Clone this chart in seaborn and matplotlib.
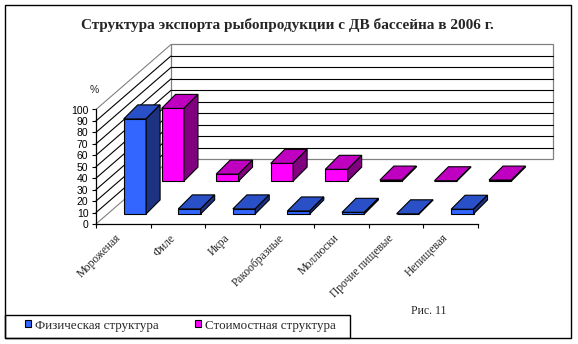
import numpy as np
import pandas as pd
import matplotlib
matplotlib.use("Agg")
import matplotlib.pyplot as plt
from matplotlib.patches import Polygon, Rectangle
from matplotlib.lines import Line2D
from matplotlib.transforms import Affine2D
import seaborn as sns

# ---- data -------------------------------------------------------------
categories = ["Мороженая", "Филе", "Икра", "Ракообразные", "Моллюски",
              "Прочие пищевые", "Непищевая"]
physical = [83.0, 4.4, 4.4, 2.6, 1.4, 0.1, 4.1]   # Физическая структура, %
cost = [63.5, 6.1, 15.5, 10.3, 0.9, 0.3, 0.9]      # Стоимостная структура, %
series_names = ["Физическая структура", "Стоимостная структура"]
y_ticks = list(range(0, 101, 10))
title = "Структура экспорта рыбопродукции с ДВ бассейна в 2006 г."
caption = "Рис. 11"
y_unit = "%"

# ---- styling ----------------------------------------------------------
sns.set_style("white")
plt.rcParams["font.family"] = ["Liberation Serif", "DejaVu Serif"]
SANS = ["Liberation Sans", "DejaVu Sans"]
SERIF = ["Liberation Serif", "DejaVu Serif"]

colors = {
    "Физическая структура": ("#3366FF", "#2A50C8", "#1E3282"),   # front, top, side
    "Стоимостная структура": ("#FF00FF", "#C000C0", "#800080"),
}

W, H = 578, 344
fig = plt.figure(figsize=(W / 100, H / 100), dpi=100)


def fx(px):
    return px / W


def fy(py):
    return 1 - py / H


# front plane of the 3-D box: x in categories, y in percent
ax_left, ax_right, ax_bottom, ax_top = 96, 478, 224, 109.5
ax = fig.add_axes([fx(ax_left), fy(ax_bottom), fx(ax_right - ax_left),
                   (ax_bottom - ax_top) / H])
ax.patch.set_visible(False)

n = len(categories)
px_per_cat = (ax_right - ax_left) / n
px_per_unit = (ax_bottom - ax_top) / 100.0

# depth of the box (oblique projection) expressed in data units
DX = 75 / px_per_cat
DY = 65 / px_per_unit
# depth of a single bar
BDX = 14 / px_per_cat
BDY = 14 / px_per_unit

wall_kw = dict(transform=ax.transData, clip_on=False)

# back wall with gridlines
ax.add_patch(Rectangle((-0.5 + DX, DY), n, 100, facecolor="white",
                       edgecolor="#808080", linewidth=0.9, zorder=0.5, **wall_kw))
for k in y_ticks[1:-1]:
    ax.add_line(Line2D([-0.5 + DX, n - 0.5 + DX], [DY + k, DY + k],
                       color="black", linewidth=0.8, zorder=0.6, **wall_kw))
# left wall
for k in y_ticks:
    c = "#808080" if k in (0, 100) else "black"
    ax.add_line(Line2D([-0.5, -0.5 + DX], [k, DY + k], color=c,
                       linewidth=0.8, zorder=0.6, **wall_kw))

# ---- bars -------------------------------------------------------------
rows = [("Стоимостная структура", cost, 0.66, 2),
        ("Физическая структура", physical, 0.155, 4)]

for name, values, depth, z in rows:
    front, top_c, side_c = colors[name]
    df = pd.DataFrame({"Категория": categories, "Доля": values})
    n0 = len(ax.patches)
    sns.barplot(data=df, x="Категория", y="Доля", order=categories,
                color=front, saturation=1, width=0.41, errorbar=None,
                edgecolor="black", linewidth=0.8, ax=ax, zorder=z)
    bars = ax.patches[n0:]
    tr = Affine2D().translate(DX * depth, DY * depth) + ax.transData
    for b in bars:
        b.set_facecolor(front)
        b.set_transform(tr)
        b.set_clip_on(False)
        x0, w, h = b.get_x(), b.get_width(), b.get_height()
        top = Polygon([(x0, h), (x0 + w, h), (x0 + w + BDX, h + BDY),
                       (x0 + BDX, h + BDY)], closed=True, facecolor=top_c,
                      edgecolor="black", linewidth=0.8, transform=tr,
                      clip_on=False, zorder=z)
        side = Polygon([(x0 + w, 0), (x0 + w, h), (x0 + w + BDX, h + BDY),
                        (x0 + w + BDX, BDY)], closed=True, facecolor=side_c,
                       edgecolor="black", linewidth=0.8, transform=tr,
                       clip_on=False, zorder=z)
        ax.add_patch(top)
        ax.add_patch(side)

# ---- axes -------------------------------------------------------------
ax.set_xlim(-0.5, n - 0.5)
ax.set_ylim(0, 100)
ax.set_xlabel("")
ax.set_ylabel("")
for s in ("top", "right"):
    ax.spines[s].set_visible(False)
for s in ("left", "bottom"):
    ax.spines[s].set_color("black")
    ax.spines[s].set_linewidth(0.9)

ax.set_yticks(y_ticks)
ax.set_yticklabels([str(t) for t in y_ticks], fontfamily=SANS, fontsize=7.5)
ax.tick_params(axis="y", left=True, direction="out", length=3, width=0.8,
               pad=2.5, colors="black")

ax.set_xticks(np.arange(-0.5, n, 1.0))
ax.set_xticklabels([])
ax.tick_params(axis="x", which="major", bottom=True, direction="out",
               length=3, width=0.8, colors="black")
ax.set_xticks(np.arange(n), minor=True)
ax.set_xticklabels(categories, minor=True, rotation=45, ha="right",
                   va="bottom", rotation_mode="anchor", fontfamily=SERIF,
                   fontsize=8.3)
ax.tick_params(axis="x", which="minor", bottom=True, length=0, pad=12)

fig.text(fx(94), fy(90), y_unit, ha="center", va="center",
         fontfamily=SANS, fontsize=7.5)

# ---- title, caption ---------------------------------------------------
fig.text(fx(287.5), fy(29), title, ha="center", va="baseline",
         fontsize=11, fontweight="bold", fontfamily=SERIF)
fig.text(fx(411), fy(314), caption, ha="left", va="baseline",
         fontsize=8.5, fontfamily=SERIF)

# ---- legend -----------------------------------------------------------
handles = [Rectangle((0, 0), 1, 1, facecolor=colors[s][0], edgecolor="black",
                     linewidth=0.8) for s in series_names]
fig.legend(handles, series_names, loc="center left",
           bbox_to_anchor=(fx(25), fy(325.5)), ncol=2, frameon=False,
           handlelength=0.46, handleheight=0.46, handletextpad=0.31,
           columnspacing=2.75, borderpad=0, borderaxespad=0,
           prop={"family": SERIF, "size": 9.4})

# chart frame and legend box
fig.add_artist(Rectangle((fx(5), fy(338)), fx(566), 333 / H, fill=False,
                         edgecolor="black", linewidth=1.0,
                         transform=fig.transFigure))
fig.add_artist(Rectangle((fx(5), fy(338)), fx(345), 23 / H, fill=False,
                         edgecolor="black", linewidth=1.0,
                         transform=fig.transFigure))

fig.savefig("out.png", dpi=100)
